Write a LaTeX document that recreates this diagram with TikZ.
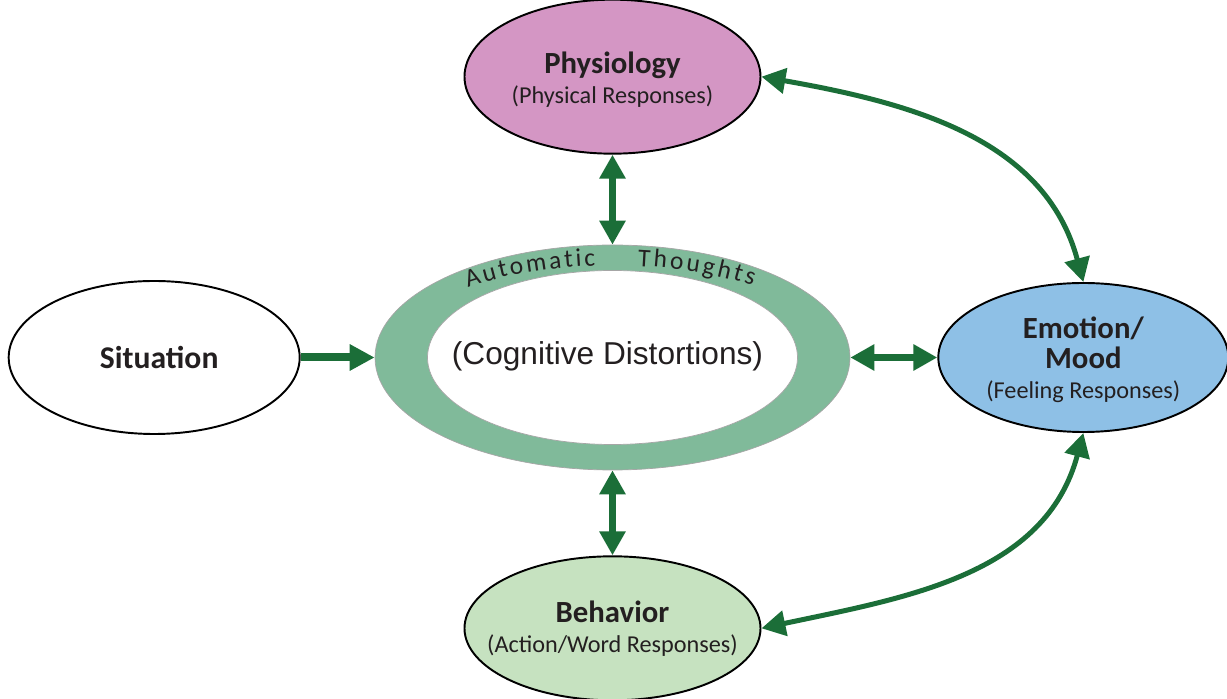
\documentclass[tikz,border=0pt]{standalone}
\usepackage{fontspec}
\setmainfont{Carlito}
\newfontfamily\arialfont{Liberation Sans}
\usetikzlibrary{shapes,arrows.meta,positioning,decorations.text}

\definecolor{physpink}{HTML}{D496C4}
\definecolor{moodblue}{HTML}{8EC0E6}
\definecolor{actgreen}{HTML}{C6E2C0}
\definecolor{ringgreen}{HTML}{80BA9A}
\definecolor{linkgreen}{HTML}{1B6E38}
\definecolor{inkgray}{HTML}{231F20}

\begin{document}
\begin{tikzpicture}[
    bubble/.style={
        ellipse,
        draw=black,
        line width=1.1pt,
        minimum width=5.92cm,
        minimum height=3.08cm,
        inner sep=0pt
    },
    caption/.style={
        align=center,
        text=inkgray,
        font=\fontsize{13.8}{17}\selectfont
    },
    link/.style={
        <->,
        >={Triangle[width=0.5cm,length=0.48cm]},
        line width=0.14cm,
        linkgreen
    },
    loop/.style={
        link,
        line width=0.1cm
    }
]

\useasboundingbox (-12.25,-6.83) rectangle (12.29,7.15);

% Automatic thoughts ring
\node[ellipse, draw=gray!70, line width=0.4pt, fill=ringgreen,
      minimum width=9.5cm, minimum height=4.5cm] (ring) at (0,0) {};
\node[ellipse, draw=gray!70, line width=0.4pt, fill=white,
      minimum width=7.4cm, minimum height=3.48cm] (core) at (ring.center) {};
\node[text=inkgray, font=\arialfont\fontsize{18}{22}\selectfont] (core-text) at (-0.1,0.02) {(Cognitive Distortions)};

\path[decorate, decoration={text along path, text align={fit to path},
      text color=inkgray, text={|\fontsize{14.5}{17}\selectfont|Automatic}}]
    (130.4:4.46 and 1.84) arc[start angle=130.4, end angle=94.4, x radius=4.46, y radius=1.84];
\path[decorate, decoration={text along path, text align={fit to path},
      text color=inkgray, text={|\fontsize{14.5}{17}\selectfont|Thoughts}}]
    (83.5:4.46 and 1.84) arc[start angle=83.5, end angle=51, x radius=4.46, y radius=1.84];

% Physiology
\node[bubble, fill=physpink, above=1.8cm of ring] (phys) {};
\node[caption] (phys-text) at ([yshift=-0.06cm]phys.center) {{\fontsize{17.5}{21}\selectfont\bfseries Physiology}\\(Physical Responses)};

% Situation
\node[bubble, fill=white, minimum width=5.82cm, minimum height=3.06cm, left=1.48cm of ring] (sit) {};
\node[caption, font=\fontsize{18}{21}\selectfont\bfseries] (sit-text) at ([xshift=0.1cm]sit.center) {Situation};

% Emotion / Mood
\node[bubble, fill=moodblue, minimum width=5.8cm, minimum height=2.98cm, right=1.74cm of ring] (emo) {};
\node[caption] (emo-text) at ([yshift=-0.05cm]emo.center) {{\fontsize{17.5}{21}\selectfont\bfseries Emotion/}\\{\fontsize{17.5}{21}\selectfont\bfseries Mood}\\(Feeling Responses)};

% Behavior
\node[bubble, fill=actgreen, minimum height=2.88cm, below=1.7cm of ring] (beh) {};
\node[caption] (beh-text) at (beh.center) {{\fontsize{17.5}{21}\selectfont\bfseries Behavior}\\(Action/Word Responses)};

% Arrows
\draw[link, -{Triangle[width=0.5cm,length=0.5cm]}, line width=0.16cm] (sit) -- (ring);
\draw[link] (phys.south) -- (ring.north);
\draw[link] (ring.south) -- (beh.north);
\draw[link] (ring.east) -- (emo.west);
\draw[loop] (phys.east) to[out=-10, in=105] (emo.north);
\draw[loop] (beh.east) to[out=12, in=-105] (emo.south);

\end{tikzpicture}
\end{document}
